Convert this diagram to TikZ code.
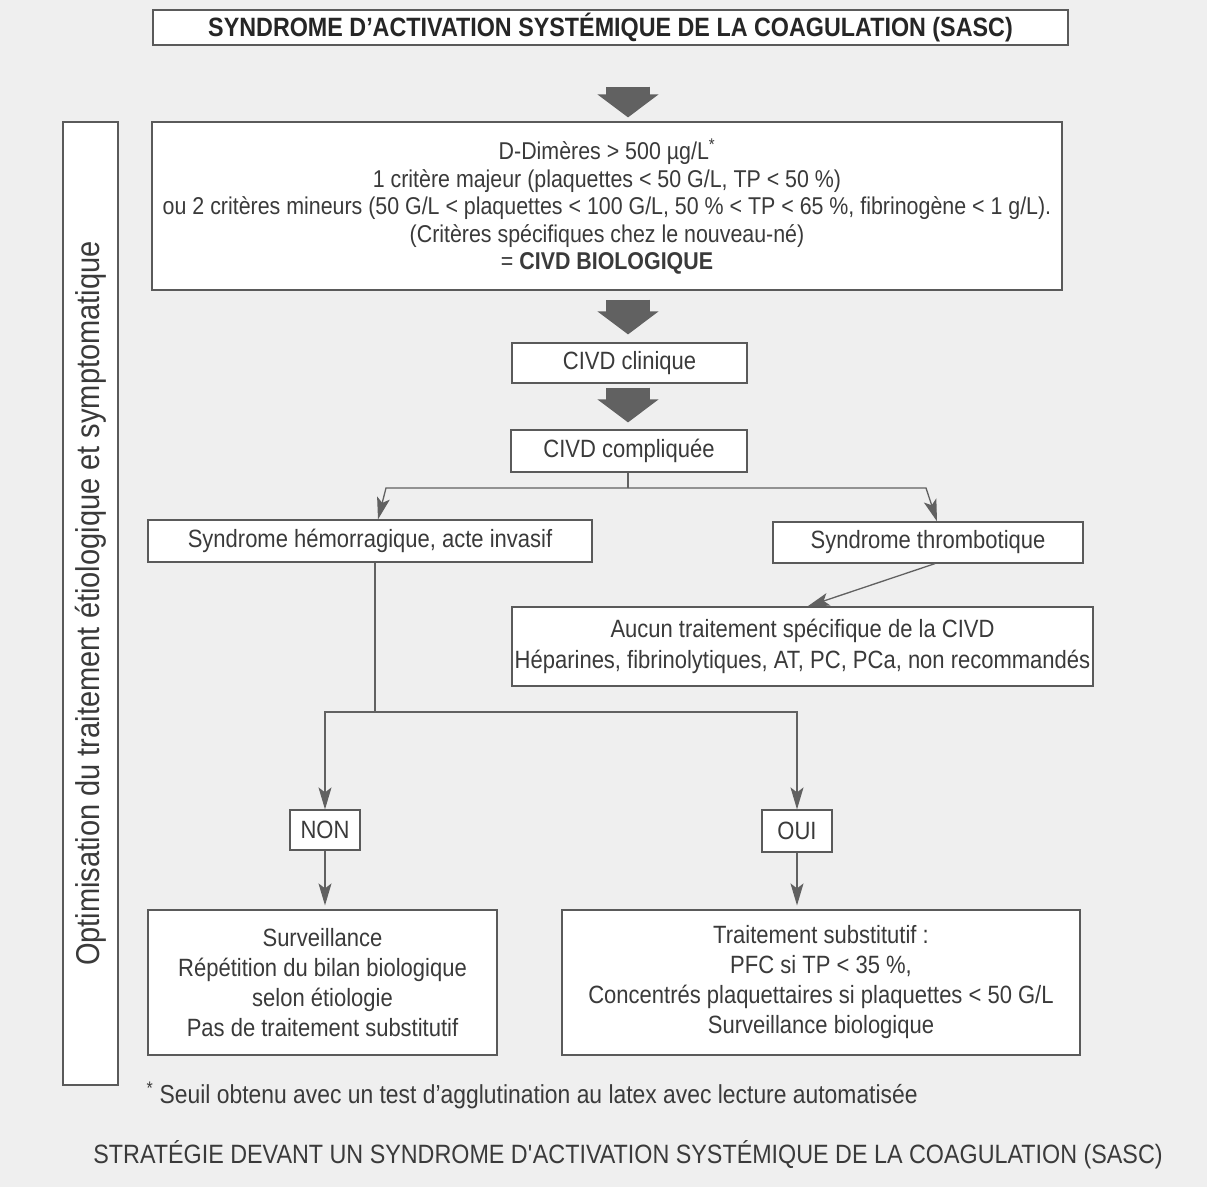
\documentclass[tikz,border=0pt]{standalone}
\usepackage{fontspec}
\setmainfont[FakeStretch=0.88]{Liberation Sans}
\usetikzlibrary{arrows.meta,calc}

\definecolor{paper}{HTML}{EFEFEF}
\definecolor{boxline}{HTML}{5A5A5A}
\definecolor{arrowgrey}{HTML}{616161}
\definecolor{txt}{HTML}{3A3A3A}

\begin{document}
\begin{tikzpicture}[x=1pt, y=-1pt, >=Stealth, line join=miter,
  box/.style={draw=boxline, fill=white, line width=1.2pt, text=txt, align=center, inner sep=0pt, font=\fontsize{25}{28}\selectfont},
  bigarrow/.style={draw=arrowgrey, line width=44pt, -{Triangle[length=23pt, width=60pt]}},
  link/.style={draw=arrowgrey, line width=1.3pt},
  linkarrow/.style={link, -{Stealth[length=22pt, width=13pt, inset=5pt]}}]

\fill[paper] (0,0) rectangle (1207,1187);
\useasboundingbox (0,0) rectangle (1207,1187);
\coordinate (axe) at (628,0);

\node[box, minimum width=915, minimum height=35, text=black!85, font=\bfseries\fontsize{26.5}{28}\selectfont] (sasc) at (610.5,27.5) {SYNDROME D’ACTIVATION SYSTÉMIQUE DE LA COAGULATION (SASC)};
\node[box, minimum width=910, minimum height=168, font=\fontsize{24.3}{27.5}\selectfont] (bio) at (607,206) {\rule{0pt}{22pt}D-Dimères > 500 µg/L\textsuperscript{*}\\1 critère majeur (plaquettes < 50 G/L, TP < 50 \%)\\ou 2 critères mineurs (50 G/L < plaquettes < 100 G/L, 50 \% < TP < 65 \%, fibrinogène < 1 g/L).\\(Critères spécifiques chez le nouveau-né)\\= \textbf{CIVD BIOLOGIQUE}};
\node[box, minimum width=235, minimum height=40] (clin) at (629.5,363) {CIVD clinique};
\node[box, minimum width=236, minimum height=42] (compl) at (629,451) {CIVD compliquée};
\node[box, minimum width=444, minimum height=42] (hemo) at (370,541) {Syndrome hémorragique, acte invasif};
\node[box, minimum width=310, minimum height=41] (thrombo) at (928,542.5) {Syndrome thrombotique};
\node[box, minimum width=581, minimum height=79, font=\fontsize{25}{31}\selectfont] (aucun) at (802.5,646.5) {Aucun traitement spécifique de la CIVD\\Héparines, fibrinolytiques, AT, PC, PCa, non recommandés};
\node[box, minimum width=70, minimum height=40] (non) at (325,830) {NON};
\node[box, minimum width=70, minimum height=42] (oui) at (797,831) {OUI};
\node[box, minimum width=349, minimum height=145, font=\fontsize{25}{30}\selectfont] (surv) at (322.5,982.5) {Surveillance\\Répétition du bilan biologique\\selon étiologie\\Pas de traitement substitutif};
\node[box, minimum width=518, minimum height=145, font=\fontsize{25}{30}\selectfont] (subst) at (821,982.5) {Traitement substitutif :\\PFC si TP < 35 \%,\\Concentrés plaquettaires si plaquettes < 50 G/L\\Surveillance biologique};
\node[box, rotate=90, minimum width=963, minimum height=55, font=\fontsize{33}{36}\selectfont] (optim) at (90.5,603.5) {Optimisation du traitement étiologique et symptomatique};

% big grey arrows down the middle
\draw[bigarrow, shorten <=41pt, shorten >=4pt] (sasc.south -| axe) -- (bio.north -| axe);
\draw[bigarrow, shorten <=9pt, shorten >=8pt] (bio.south -| axe) -- (clin.north -| axe);
\draw[bigarrow, shorten <=4pt, shorten >=7pt] (clin.south -| axe) -- (compl.north -| axe);

% split below CIVD compliquee
\coordinate (split) at (628,488);
\draw[link] (compl.south -| split) -- (split);
\draw[linkarrow] (split) -- (386,488) -- ([xshift=8]hemo.north);
\draw[linkarrow] (split) -- (926,488) -- ([xshift=9]thrombo.north);
\draw[linkarrow] ([xshift=7]thrombo.south) -- ([xshift=5]aucun.north);

% NON / OUI
\coordinate (fork) at (375,712);
\draw[link] ([xshift=5]hemo.south) -- (fork);
\draw[linkarrow] (fork) -| (non.north);
\draw[linkarrow] (fork) -| (oui.north);
\draw[linkarrow, shorten >=4pt] (non.south) -- (non.south |- surv.north);
\draw[linkarrow, shorten >=4pt] (oui.south) -- (oui.south |- subst.north);

\node[anchor=west, text=txt, font=\fontsize{26}{28}\selectfont] (note) at (143,1095) {\textsuperscript{*} Seuil obtenu avec un test d’agglutination au latex avec lecture automatisée};
\node[text=txt, font=\fontsize{26.5}{28}\selectfont] (legende) at (628,1155) {STRATÉGIE DEVANT UN SYNDROME D\textquotesingle ACTIVATION SYSTÉMIQUE DE LA COAGULATION (SASC)};

\end{tikzpicture}
\end{document}
